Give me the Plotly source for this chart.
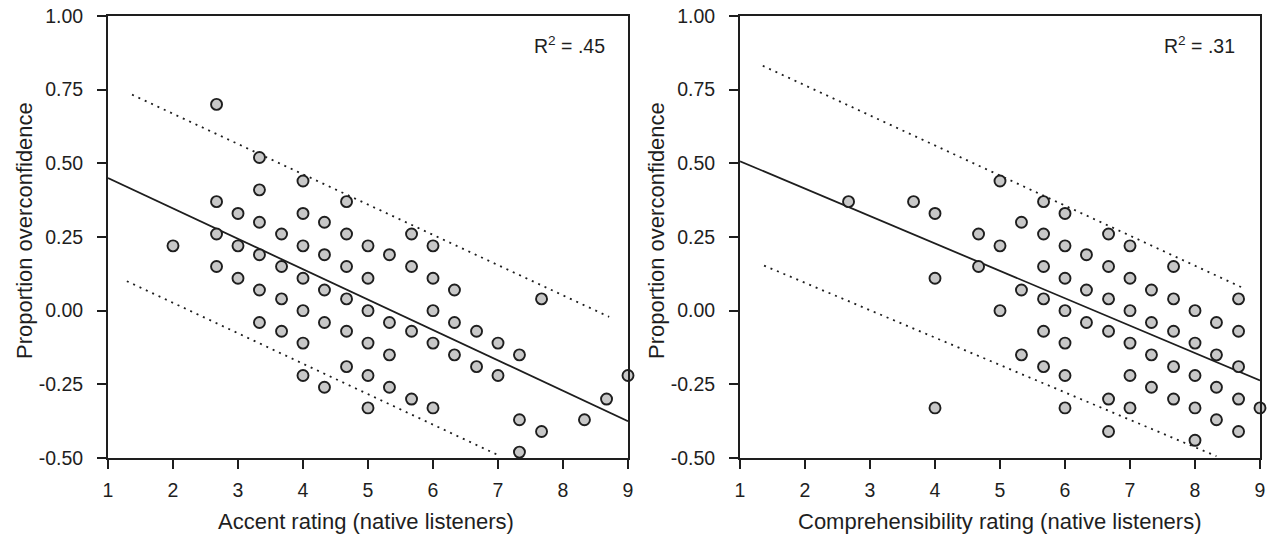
import plotly.graph_objects as go

# ---------------- data ----------------
left_x = [2,
          2.67, 2.67, 2.67, 2.67,
          3, 3, 3,
          3.33, 3.33, 3.33, 3.33, 3.33, 3.33,
          3.67, 3.67, 3.67, 3.67,
          4, 4, 4, 4, 4, 4, 4,
          4.33, 4.33, 4.33, 4.33, 4.33,
          4.67, 4.67, 4.67, 4.67, 4.67, 4.67,
          5, 5, 5, 5, 5, 5,
          5.33, 5.33, 5.33, 5.33,
          5.67, 5.67, 5.67, 5.67,
          6, 6, 6, 6, 6,
          6.33, 6.33, 6.33,
          6.67, 6.67,
          7, 7,
          7.33, 7.33, 7.33,
          7.67, 7.67,
          8.33, 8.67, 9]
left_y = [0.22,
          0.70, 0.37, 0.26, 0.15,
          0.33, 0.22, 0.11,
          0.52, 0.41, 0.30, 0.19, 0.07, -0.04,
          0.26, 0.15, 0.04, -0.07,
          0.44, 0.33, 0.22, 0.11, 0.00, -0.11, -0.22,
          0.30, 0.19, 0.07, -0.04, -0.26,
          0.37, 0.26, 0.15, 0.04, -0.07, -0.19,
          0.22, 0.11, 0.00, -0.11, -0.22, -0.33,
          0.19, -0.04, -0.15, -0.26,
          0.26, 0.15, -0.07, -0.30,
          0.22, 0.11, 0.00, -0.11, -0.33,
          0.07, -0.04, -0.15,
          -0.07, -0.19,
          -0.11, -0.22,
          -0.15, -0.37, -0.48,
          0.04, -0.41,
          -0.37, -0.30, -0.22]

right_x = [2.67,
           3.67,
           4, 4, 4,
           4.67, 4.67,
           5, 5, 5,
           5.33, 5.33, 5.33,
           5.67, 5.67, 5.67, 5.67, 5.67, 5.67,
           6, 6, 6, 6, 6, 6, 6,
           6.33, 6.33, 6.33,
           6.67, 6.67, 6.67, 6.67, 6.67, 6.67,
           7, 7, 7, 7, 7, 7,
           7.33, 7.33, 7.33, 7.33,
           7.67, 7.67, 7.67, 7.67, 7.67,
           8, 8, 8, 8, 8,
           8.33, 8.33, 8.33, 8.33,
           8.67, 8.67, 8.67, 8.67, 8.67,
           9]
right_y = [0.37,
           0.37,
           0.33, 0.11, -0.33,
           0.26, 0.15,
           0.44, 0.22, 0.00,
           0.30, 0.07, -0.15,
           0.37, 0.26, 0.15, 0.04, -0.07, -0.19,
           0.33, 0.22, 0.11, 0.00, -0.11, -0.22, -0.33,
           0.19, 0.07, -0.04,
           0.26, 0.15, 0.04, -0.07, -0.30, -0.41,
           0.22, 0.11, 0.00, -0.11, -0.22, -0.33,
           0.07, -0.04, -0.15, -0.26,
           0.15, 0.04, -0.07, -0.19, -0.30,
           0.00, -0.11, -0.22, -0.33, -0.44,
           -0.04, -0.15, -0.26, -0.37,
           0.04, -0.07, -0.19, -0.30, -0.41,
           -0.33]

# regression lines and prediction bands (end points)
left_fit_x = [1, 9]
left_fit_y = [0.45, -0.375]
left_upper_x = [1.37, 8.71]
left_upper_y = [0.733, -0.021]
left_lower_x = [1.29, 6.99]
left_lower_y = [0.10, -0.489]

right_fit_x = [1, 9]
right_fit_y = [0.507, -0.237]
right_upper_x = [1.35, 8.74]
right_upper_y = [0.831, 0.077]
right_lower_x = [1.37, 8.33]
right_lower_y = [0.153, -0.494]

x_ticks = [1, 2, 3, 4, 5, 6, 7, 8, 9]
y_ticks = [-0.50, -0.25, 0.00, 0.25, 0.50, 0.75, 1.00]
y_tick_labels = ["-0.50", "-0.25", "0.00", "0.25", "0.50", "0.75", "1.00"]

left_xtitle = "Accent rating (native listeners)"
right_xtitle = "Comprehensibility rating (native listeners)"
ytitle = "Proportion overconfidence"
left_r2 = "R<sup>2</sup> = .45"
right_r2 = "R<sup>2</sup> = .31"

# ---------------- figure ----------------
W, H = 1271, 534
FONT = "Liberation Sans, Arial, Helvetica, sans-serif"
INK = "#1e1e1e"

def px_x(p):
    return p / W

def px_y(p):
    return 1 - p / H

dom_y = [px_y(458), px_y(16)]
dom_x1 = [px_x(108), px_x(628)]
dom_x2 = [px_x(740), px_x(1260)]

fig = go.Figure()

marker = dict(size=11, color="#c8c8c8", line=dict(color=INK, width=1.9))

def add_panel(xa, ya, fx, fy, ux, uy, lx, ly, sx, sy):
    fig.add_trace(go.Scatter(x=fx, y=fy, mode="lines", xaxis=xa, yaxis=ya,
                             line=dict(color=INK, width=1.8), showlegend=False,
                             hoverinfo="skip"))
    for bx, by in ((ux, uy), (lx, ly)):
        fig.add_trace(go.Scatter(x=bx, y=by, mode="lines", xaxis=xa, yaxis=ya,
                                 line=dict(color=INK, width=1.8, dash="2px,5px"),
                                 showlegend=False, hoverinfo="skip"))
    fig.add_trace(go.Scatter(x=sx, y=sy, mode="markers", xaxis=xa, yaxis=ya,
                             marker=marker, showlegend=False, cliponaxis=False))

add_panel("x", "y", left_fit_x, left_fit_y, left_upper_x, left_upper_y,
          left_lower_x, left_lower_y, left_x, left_y)
add_panel("x2", "y2", right_fit_x, right_fit_y, right_upper_x, right_upper_y,
          right_lower_x, right_lower_y, right_x, right_y)

xaxis_common = dict(range=[1, 9], tickvals=x_ticks, ticks="outside", ticklen=9,
                    tickwidth=1.6, tickcolor=INK, showline=True, linecolor=INK,
                    linewidth=1.8, mirror=True, showgrid=False, zeroline=False,
                    automargin=False, ticklabelstandoff=5,
                    tickfont=dict(family=FONT, size=19.5, color=INK))
yaxis_common = dict(range=[-0.5, 1.0], tickvals=y_ticks, ticktext=y_tick_labels,
                    ticks="outside", ticklen=9, tickwidth=1.6, tickcolor=INK,
                    showline=True, linecolor=INK, linewidth=1.8, mirror=True,
                    showgrid=False, zeroline=False, automargin=False,
                    ticklabelstandoff=10,
                    tickfont=dict(family=FONT, size=19.5, color=INK))

fig.update_layout(
    width=W, height=H,
    margin=dict(l=0, r=0, t=0, b=0),
    paper_bgcolor="white", plot_bgcolor="white",
    font=dict(family=FONT, color=INK),
    xaxis=dict(domain=dom_x1, anchor="y", **xaxis_common),
    yaxis=dict(domain=dom_y, anchor="x", **yaxis_common),
    xaxis2=dict(domain=dom_x2, anchor="y2", **xaxis_common),
    yaxis2=dict(domain=dom_y, anchor="x2", **yaxis_common),
)

annots = [
    dict(text=left_xtitle, x=px_x(366), y=px_y(521)),
    dict(text=right_xtitle, x=px_x(1000), y=px_y(521)),
    dict(text=ytitle, x=px_x(24), y=px_y(231), textangle=-90),
    dict(text=ytitle, x=px_x(656), y=px_y(231), textangle=-90),
]
for a in annots:
    fig.add_annotation(xref="paper", yref="paper", showarrow=False,
                       xanchor="center", yanchor="middle",
                       font=dict(family=FONT, size=22, color=INK), **a)

fig.add_annotation(xref="x domain", yref="y domain", x=(607 - 108) / 520,
                   y=(458 - 45) / 442, text=left_r2, showarrow=False,
                   xanchor="right", yanchor="middle",
                   font=dict(family=FONT, size=19.5, color=INK))
fig.add_annotation(xref="x2 domain", yref="y2 domain", x=(1237 - 740) / 520,
                   y=(458 - 45) / 442, text=right_r2, showarrow=False,
                   xanchor="right", yanchor="middle",
                   font=dict(family=FONT, size=19.5, color=INK))

fig.write_html(
    "out.html",
    config={"displayModeBar": False},
    post_script="document.body.style.margin='0';document.body.style.overflow='hidden';",
)
